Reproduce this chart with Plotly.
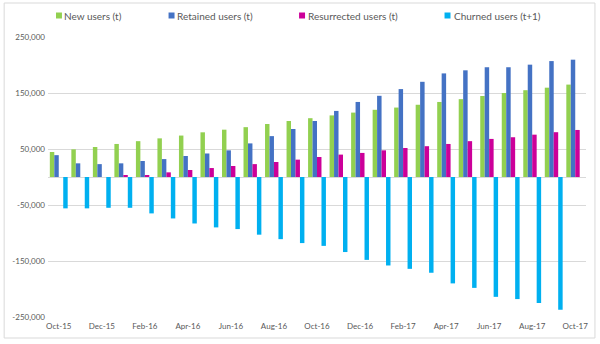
import plotly.graph_objects as go

# Monthly user-flow counts
months = ["Oct-15", "Nov-15", "Dec-15", "Jan-16", "Feb-16", "Mar-16", "Apr-16", "May-16",
          "Jun-16", "Jul-16", "Aug-16", "Sep-16", "Oct-16", "Nov-16", "Dec-16", "Jan-17",
          "Feb-17", "Mar-17", "Apr-17", "May-17", "Jun-17", "Jul-17", "Aug-17", "Sep-17", "Oct-17"]
new_users = [44600, 49400, 53600, 59000, 64000, 69000, 74000, 79800, 84500, 89000, 94600, 100000,
             105000, 110000, 115000, 120000, 124000, 129000, 134000, 139000, 144600, 150000,
             155000, 159500, 165000]
retained_users = [39000, 24400, 23000, 24400, 28600, 32000, 37500, 42000, 47600, 60000, 73000, 85700,
                  100000, 118000, 134000, 145000, 157000, 170000, 185000, 190500, 196000, 196000,
                  200600, 207000, 209500]
resurrected_users = [None, None, None, 1800, 3500, 8300, 12500, 16000, 19600, 23000, 26800, 31000,
                     35700, 40000, 43000, 47600, 51800, 55000, 59000, 64000, 68000, 71000,
                     75600, 80000, 84000]
churned_users = [-56000, -56000, -55000, -55000, -65000, -74000, -83000, -90000, -93000, -103000,
                 -111000, -118000, -123000, -134000, -148000, -158000, -164000, -171000, -190000,
                 -198000, -214000, -218000, -225000, -237000, None]

series_names = ["New users (t)", "Retained users (t)", "Resurrected users (t)", "Churned users (t+1)"]
series_colors = ["#92D050", "#4472C4", "#CC0099", "#00B0F0"]
series_values = [new_users, retained_users, resurrected_users, churned_users]

y_ticks = [250000, 150000, 50000, -50000, -150000, -250000]
x_ticks = months[::2]

W, H = 600, 344
L, R, T, B = 47, 13, 37, 27
PW, PH = W - L - R, H - T - B


def px_x(x):
    return (x - L) / PW


def px_y(y):
    return (H - B - y) / PH


fig = go.Figure()
for name, color, vals in zip(series_names, series_colors, series_values):
    fig.add_trace(go.Bar(x=months, y=vals, name=name, marker_color=color,
                         marker_line_width=0, showlegend=False))

FONT = "Lato, Open Sans, sans-serif"
legend_font = dict(family=FONT, size=10, color="#595959")
tick_font = dict(family=FONT, size=8, color="#595959")

# legend row across the top
legend_marks = [(55, 63), (168, 176), (299, 308), (445, 454)]
shapes = [dict(type="rect", xref="paper", yref="paper",
               x0=px_x(3), x1=px_x(596), y0=px_y(338), y1=px_y(3),
               line=dict(color="#D9D9D9", width=1), fillcolor="rgba(0,0,0,0)", layer="below")]
annotations = []
for (mx, tx), name, color in zip(legend_marks, series_names, series_colors):
    shapes.append(dict(type="rect", xref="paper", yref="paper",
                       x0=px_x(mx), x1=px_x(mx + 6), y0=px_y(18.5), y1=px_y(12.5),
                       line_width=0, fillcolor=color))
    annotations.append(dict(text=name, xref="paper", yref="paper", x=px_x(tx - 2), y=px_y(15.5),
                            xanchor="left", yanchor="middle", showarrow=False, font=legend_font))

fig.update_layout(
    width=W, height=H,
    margin=dict(l=L, r=R, t=T, b=B),
    paper_bgcolor="white", plot_bgcolor="white",
    barmode="group", bargap=0.17, bargroupgap=0,
    shapes=shapes, annotations=annotations,
    font=dict(family=FONT, size=8, color="#595959"),
)
fig.update_xaxes(type="category", tickvals=x_ticks, ticktext=x_ticks, showgrid=False,
                 showline=False, ticks="", tickfont=tick_font, ticklabelstandoff=3)
fig.update_yaxes(range=[-250000, 250000], tickvals=y_ticks,
                 ticktext=[f"{v:,}" for v in y_ticks], showgrid=True, gridcolor="#D9D9D9",
                 gridwidth=1, zeroline=True, zerolinecolor="#D9D9D9", zerolinewidth=1,
                 showline=False, ticks="", tickfont=tick_font, ticklabelstandoff=2)

fig.write_html("out.html")
